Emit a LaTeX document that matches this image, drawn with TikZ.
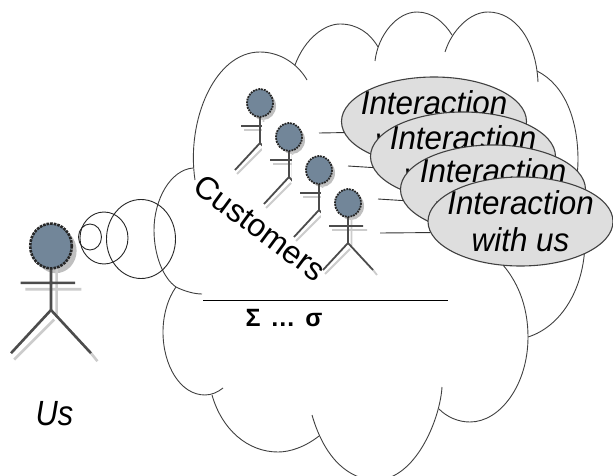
\documentclass[tikz,border=0pt]{standalone}
\usepackage{fontspec}
\setmainfont{Liberation Sans}
\usetikzlibrary{shapes.geometric}

\definecolor{headblue}{HTML}{728699}
\definecolor{bubblegray}{HTML}{DEDEDE}

\tikzset{
    cloudline/.style={draw=black!75, line width=0.9pt},
    interaction/.style={ellipse, draw=black!75, fill=bubblegray, line width=1.1pt, minimum width=185pt, minimum height=89pt, inner sep=0pt},
    interactiontext/.style={font=\fontsize{33}{37}\selectfont\itshape, xscale=0.95, align=center, inner sep=0pt},
    actor/.pic={
        \fill[white] (-27.5,-15) rectangle (33,70);
        % shadow
        \fill[black!25] (3,3) ellipse (13 and 14);
        \draw[black!20, line width=#1pt] (-16,27) -- (19,27) (3.5,14) -- (3.5,43) (-23,71) -- (2,46) (25,67) -- (29,72);
        % body
        \draw[black!70, line width=#1pt] (0,13) -- (0,40) (-19,23) -- (15,23) (-25,67) -- (0,40) -- (25,67);
        \fill[headblue] (0,0) ellipse (13 and 14);
        \draw[black!85, line width=#1pt, densely dotted] (0,0) ellipse (13 and 14);
    }
}

\begin{document}
\begin{tikzpicture}[x=1pt, y=-1pt]
    \clip (0,0) rectangle (613,476);

    % Cloud
    \draw[cloudline] (195,180) .. controls (186,120) and (215,52) .. (260,52) .. controls (280,52) and (298,64) .. (307,80);
    \draw[cloudline] (295,65) .. controls (305,38) and (325,24) .. (340,24) .. controls (357,24) and (370,33) .. (378,47);
    \draw[cloudline] (375,61) .. controls (378,35) and (397,12) .. (417,12) .. controls (432,12) and (444,22) .. (452,35);
    \draw[cloudline] (445,52) .. controls (452,30) and (470,12) .. (488,12) .. controls (515,12) and (536,40) .. (538,82);
    \draw[cloudline] (537,71) .. controls (565,85) and (578,120) .. (578,160) .. controls (578,175) and (575,190) .. (570,200);
    \draw[cloudline] (585,240) .. controls (585,290) and (560,327) .. (528,337);
    \draw[cloudline] (503,265) .. controls (520,285) and (528,310) .. (528,337) .. controls (528,385) and (500,422) .. (470,422) .. controls (458,422) and (447,417) .. (439,409);
    \draw[cloudline] (442,387) .. controls (440,420) and (415,480) .. (376,480) .. controls (350,480) and (325,460) .. (312,415);
    \draw[cloudline] (319,436) .. controls (305,447) and (290,452) .. (278,452) .. controls (248,452) and (222,430) .. (212,395);
    \draw[cloudline] (223,388) .. controls (218,392) and (212,395) .. (205,395) .. controls (180,395) and (163,365) .. (163,332) .. controls (163,315) and (168,298) .. (176,287);
    \draw[cloudline] (193,168) .. controls (170,170) and (154,200) .. (154,230) .. controls (154,255) and (163,278) .. (176,287) .. controls (184,291) and (194,294) .. (202,294);

    % Actors
    \pic[scale=1.6] (usactor) at (51,246) {actor=2.6};
    \foreach \i/\x/\y in {1/260/103, 2/289/137, 3/319/170, 4/348/203} {
        \pic (customer\i) at (\x,\y) {actor=1.8};
    }

    % Thought circles
    \node[ellipse, draw=black!85, line width=0.9pt, minimum width=23pt, minimum height=26pt, inner sep=0pt] (dot1) at (90,237) {};
    \node[ellipse, draw=black!85, line width=0.9pt, minimum width=48pt, minimum height=52pt, inner sep=0pt] (dot2) at (104,238) {};
    \node[ellipse, draw=black!85, line width=0.9pt, minimum width=69pt, minimum height=79pt, inner sep=0pt] (dot3) at (141,239) {};

    % Interactions
    \foreach \i/\x/\y/\s in {1/434/121.5/-20, 2/463/156.5/-20, 3/493/189.5/-20, 4/520.5/221.5/0} {
        \node[interaction] (inter\i) at (\x,\y) {};
        \node[interactiontext] (intertext\i) at (\x,\y) {Interaction\\\hspace*{\s pt}with us};
    }

    % Stubs
    \coordinate (stub1) at (319,133);
    \coordinate (stub2) at (348,166);
    \coordinate (stub3) at (378,199);
    \coordinate (stub4) at (380,233);
    \foreach \i in {1,...,4} {
        \draw[black!80, line width=0.9pt] (stub\i) -- (inter\i.187);
    }

    % Labels
    \node[font=\fontsize{32}{37}\selectfont, rotate=-36.5] (customers) at (260,228) {Customers};
    \coordinate (barleft) at (203,300);
    \coordinate (barright) at (448,300);
    \draw[black, line width=0.9pt] (barleft) -- (barright);
    \node[font=\fontsize{25}{28}\bfseries\selectfont] (sum) at (284,318) {Σ\hspace{3pt} … \hspace{3pt}σ};
    \node[font=\fontsize{35}{37}\selectfont\itshape, xscale=0.88] (us) at (54.5,414) {Us};
\end{tikzpicture}
\end{document}
